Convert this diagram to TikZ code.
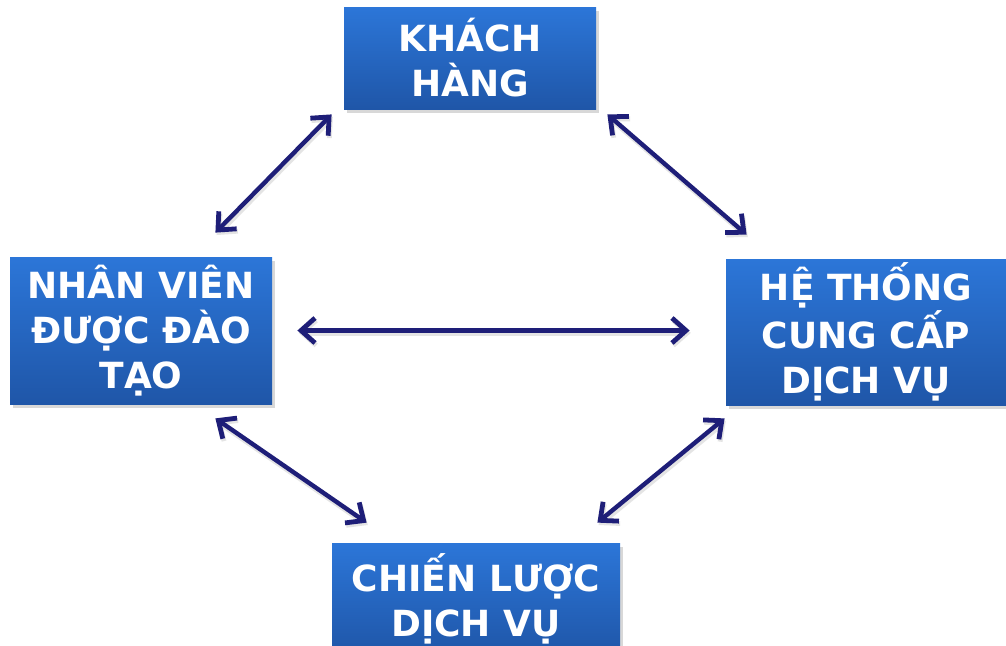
\documentclass[tikz,border=0pt]{standalone}
\usepackage{fontspec}
\setmainfont{DejaVu Sans}
\usetikzlibrary{arrows.meta,shadows,calc}
\definecolor{boxtop}{RGB}{44,118,216}
\definecolor{boxbot}{RGB}{31,86,168}
\definecolor{navy}{RGB}{30,30,120}
\tikzset{
  box/.style={rectangle, top color=boxtop, bottom color=boxbot, draw=none,
    text=white, font=\bfseries\fontsize{18}{22.5}\selectfont, align=center,
    inner sep=0pt, drop shadow={shadow xshift=1.5pt, shadow yshift=-2pt, opacity=0.3}},
  barbtip/.tip={Straight Barb[length=7pt,width=12.5pt,line width=2.4pt]},
  biarrow/.style={draw=navy, line width=2.2pt, line cap=round, barbtip-barbtip,
    preaction={draw=black!35, opacity=0.3, line width=2.8pt, transform canvas={xshift=0.6pt,yshift=-1.2pt}}}
}
\begin{document}
\begin{tikzpicture}[x=0.5pt,y=-0.5pt]
  \useasboundingbox[fill=white] (0,0) rectangle (1006,645);
  \clip (0,0) rectangle (1006,645);
  % the four boxes
  \node[box, minimum width=126pt, minimum height=51pt] (kh) at (470,58) {KHÁCH\\HÀNG};
  \node[box, minimum width=131pt, minimum height=73.5pt] (nv) at (141,330.5) {NHÂN VIÊN\\ĐƯỢC ĐÀO\\TẠO};
  \node[box, minimum width=140pt, minimum height=73pt] (ht) at (866,332) {HỆ THỐNG\\CUNG CẤP\\DỊCH VỤ};
  \node[box, minimum width=144pt, minimum height=56pt] (cl) at (476,599) {CHIẾN LƯỢC\\DỊCH VỤ};
  % two-way links between the boxes
  \draw[biarrow] ($(nv.north east)+(-57,-24)$) -- ($(kh.south west)+(-12,5)$);
  \draw[biarrow] ($(kh.south east)+(11,5)$) -- ($(ht.north west)+(21,-24)$);
  \draw[biarrow] ($(nv.east)+(25,0)$) -- ($(ht.west)+(-36,-1.5)$);
  \draw[biarrow] ($(nv.south east)+(-57,14)$) -- ($(cl.north west)+(35,-20)$);
  \draw[biarrow] ($(ht.south west)+(-1,13)$) -- ($(cl.north east)+(-23,-20)$);
\end{tikzpicture}
\end{document}
